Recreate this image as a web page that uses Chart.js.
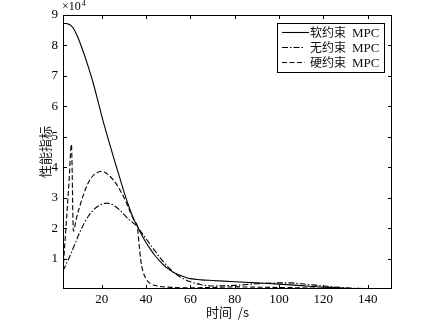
<!DOCTYPE html>
<html>
<head>
<meta charset="utf-8">
<script src="https://cdn.jsdelivr.net/npm/chart.js@4"></script>
<style>
  html, body { margin: 0; padding: 0; background: #fff; }
  #wrap { width: 429px; height: 326px; }
</style>
</head>
<body>
<div id="wrap"><canvas id="perfChart"></canvas></div>
<script>
// values in units of 1e4
const softT = [2.5, 4, 5, 6, 7, 8, 9, 10, 12, 14, 16, 18, 20, 22, 24, 26, 28, 30, 32, 34, 36, 38, 40, 42, 44, 46, 48, 50, 52, 55, 58, 60, 65, 70, 80, 90, 100, 110, 120, 130, 140, 151];
const softVals = [8.72, 8.72, 8.7, 8.66, 8.58, 8.46, 8.3, 8.12, 7.72, 7.28, 6.8, 6.25, 5.68, 5.15, 4.65, 4.16, 3.68, 3.2, 2.76, 2.37, 2.07, 1.78, 1.52, 1.3, 1.1, 0.93, 0.78, 0.66, 0.56, 0.46, 0.38, 0.34, 0.3, 0.28, 0.24, 0.2, 0.16, 0.11, 0.06, 0.025, 0.008, 0];

const freeT = [2.5, 5, 8, 10, 12, 14, 16, 18, 20, 22, 24, 26, 28, 30, 32, 34, 36, 38, 40, 42, 44, 46, 48, 50, 53, 56, 60, 65, 70, 80, 90, 100, 105, 110, 120, 130, 140, 151];
const freeVals = [0.6, 0.98, 1.5, 1.85, 2.15, 2.4, 2.58, 2.7, 2.78, 2.82, 2.8, 2.72, 2.6, 2.45, 2.3, 2.18, 2.05, 1.85, 1.65, 1.45, 1.25, 1.05, 0.88, 0.72, 0.52, 0.37, 0.24, 0.14, 0.1, 0.12, 0.17, 0.2, 0.2, 0.17, 0.1, 0.04, 0.01, 0];

const hardT = [2.5, 4, 5.2, 6.3, 7.2, 8.5, 10, 12, 14, 16, 18, 19.5, 21, 23, 25, 27, 29, 31, 33, 35, 36, 36.8, 37.6, 38.5, 40, 42, 45, 50, 60, 70, 80, 90, 100, 110, 120, 130, 140, 151];
const hardVals = [0.6, 2.2, 3.5, 4.75, 1.9, 2.3, 2.7, 3.15, 3.5, 3.72, 3.83, 3.86, 3.84, 3.75, 3.6, 3.4, 3.15, 2.85, 2.5, 2.2, 2.08, 1.5, 0.95, 0.6, 0.33, 0.18, 0.1, 0.06, 0.04, 0.05, 0.07, 0.06, 0.05, 0.04, 0.02, 0.01, 0.005, 0];

const seriesNames = ["软约束", "无约束", "硬约束"];
const xTicks = [20, 40, 60, 80, 100, 120, 140];
const yTicks = [1, 2, 3, 4, 5, 6, 7, 8, 9];

const serif = "'Liberation Serif', 'DejaVu Serif', serif";
const cjk = "'Noto Sans CJK SC', sans-serif";

function toPoints(xs, ys) {
    return xs.map((x, i) => ({ x: x, y: ys[i] }));
}

function lineSet(label, xs, ys, dash) {
    return {
        label: label,
        data: toPoints(xs, ys),
        borderColor: "#000",
        borderWidth: 1.1,
        borderDash: dash,
        pointRadius: 0,
        fill: false,
        cubicInterpolationMode: "monotone"
    };
}

// frame, inward ticks, legend box and the x10^4 mark
const matlabBox = {
    id: "matlabBox",
    afterDraw(chart) {
        const ctx = chart.ctx;
        const a = chart.chartArea;
        const xs = chart.scales.x;
        const ys = chart.scales.y;
        ctx.save();
        ctx.strokeStyle = "#000";
        ctx.lineWidth = 1;
        ctx.setLineDash([]);
        ctx.strokeRect(a.left + 0.5, a.top + 0.5, a.right - a.left - 1, a.bottom - a.top - 1);

        ctx.beginPath();
        xs.ticks.forEach((t) => {
            const px = Math.round(xs.getPixelForValue(t.value)) + 0.5;
            ctx.moveTo(px, a.bottom); ctx.lineTo(px, a.bottom - 4);
            ctx.moveTo(px, a.top); ctx.lineTo(px, a.top + 4);
        });
        ys.ticks.forEach((t) => {
            const py = Math.round(ys.getPixelForValue(t.value)) + 0.5;
            ctx.moveTo(a.left, py); ctx.lineTo(a.left + 4, py);
            ctx.moveTo(a.right, py); ctx.lineTo(a.right - 4, py);
        });
        ctx.stroke();

        // exponent label
        ctx.fillStyle = "#000";
        ctx.textBaseline = "middle";
        ctx.textAlign = "left";
        ctx.font = "12px " + serif;
        ctx.fillText("×10", a.left - 1, 7);
        const w = ctx.measureText("×10").width;
        ctx.font = "8px " + serif;
        ctx.fillText("4", a.left + w, 4);

        // legend
        const lx = 277, ly = 23, lw = 107, lh = 49;
        ctx.fillStyle = "#fff";
        ctx.fillRect(lx, ly, lw, lh);
        ctx.strokeRect(lx + 0.5, ly + 0.5, lw, lh);
        chart.data.datasets.forEach((ds, i) => {
            const y = ly + 9.5 + i * 15;
            ctx.beginPath();
            ctx.setLineDash(ds.borderDash || []);
            ctx.lineWidth = 1.1;
            ctx.moveTo(282, y);
            ctx.lineTo(i === 0 ? 309 : 305, y);
            ctx.stroke();
            ctx.setLineDash([]);
            ctx.fillStyle = "#111";
            ctx.font = "12px " + cjk;
            ctx.fillText(ds.label, 310, y);
            ctx.font = "13px " + serif;
            ctx.fillText("MPC", 352, y + 1);
        });
        ctx.restore();
    }
};

new Chart(document.getElementById("perfChart"), {
    type: "line",
    data: {
        datasets: [
            lineSet(seriesNames[0], softT, softVals, []),
            lineSet(seriesNames[1], freeT, freeVals, [6, 2, 1.5, 2]),
            lineSet(seriesNames[2], hardT, hardVals, [5, 2.5])
        ]
    },
    options: {
        responsive: true,
        maintainAspectRatio: false,
        animation: false,
        devicePixelRatio: 1,
        layout: { padding: { left: 0, top: 15, right: 37, bottom: 0 } },
        plugins: { legend: { display: false }, tooltip: { enabled: false } },
        scales: {
            x: {
                type: "linear",
                min: 2.5,
                max: 151,
                afterBuildTicks: (s) => { s.ticks = xTicks.map((v) => ({ value: v })); },
                afterFit: (s) => { s.height = 37; },
                grid: { display: false, drawTicks: false },
                border: { display: false },
                ticks: { autoSkip: false, maxRotation: 0, padding: 3, color: "#000", font: { family: serif, size: 13 } },
                title: { display: true, text: "时间  /s", color: "#111", padding: { top: 0, bottom: 6 }, font: { family: cjk, size: 13 } }
            },
            y: {
                min: 0,
                max: 9,
                afterBuildTicks: (s) => { s.ticks = yTicks.map((v) => ({ value: v })); },
                afterFit: (s) => { s.width = 63; },
                grid: { display: false, drawTicks: false },
                border: { display: false },
                ticks: { padding: 5, color: "#000", font: { family: serif, size: 13 } },
                title: { display: true, text: "性能指标", color: "#111", padding: { top: 37, bottom: 0 }, font: { family: cjk, size: 13 } }
            }
        }
    },
    plugins: [matlabBox]
});
</script>
</body>
</html>
